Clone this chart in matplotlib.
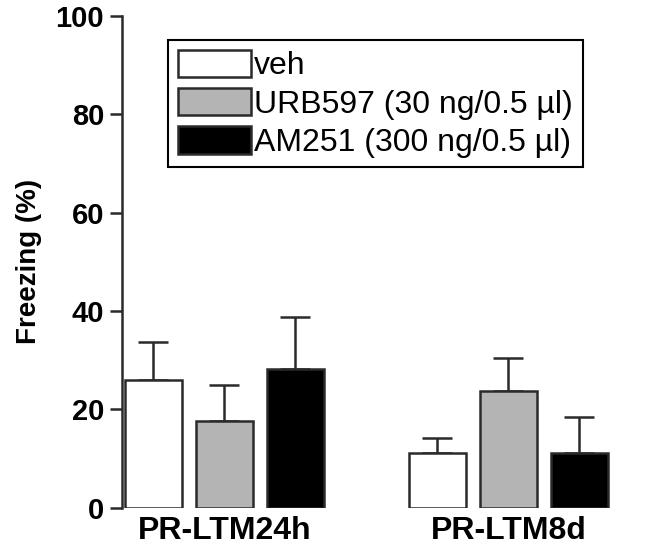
import numpy as np
import matplotlib.pyplot as plt

plt.rcParams['font.family'] = ['Liberation Sans', 'DejaVu Sans']

groups = ['PR-LTM24h', 'PR-LTM8d']
labels = ['veh', 'URB597 (30 ng/0.5 µl)', 'AM251 (300 ng/0.5 µl)']
veh = [26.0, 11.2]
urb = [17.7, 23.8]
am251 = [28.2, 11.1]
veh_err = [7.7, 3.1]
urb_err = [7.3, 6.6]
am251_err = [10.6, 7.3]

colors = ['white', '#b4b4b4', 'black']
edge = '#2a2a2a'

fig = plt.figure(figsize=(6.5, 5.52), dpi=100)
ax = fig.add_axes([0.188, 0.08, 0.758, 0.891])

centers = np.array([0, 4])
for i, (vals, errs) in enumerate([(veh, veh_err), (urb, urb_err), (am251, am251_err)]):
    x = centers + (i - 1)
    ax.bar(x, vals, width=0.8, color=colors[i], edgecolor=edge, linewidth=1.8,
           label=labels[i], zorder=2)
    ax.errorbar(x, vals, yerr=[np.zeros(2), errs], fmt='none', ecolor=edge,
                elinewidth=1.8, capsize=11, capthick=1.8, zorder=1)

ax.set_xlim(-1.44, 5.5)
ax.set_ylim(0, 100)
ax.set_yticks([0, 20, 40, 60, 80, 100])
ax.set_xticks(centers)
ax.set_xticklabels(groups, fontsize=23, fontweight='bold')
ax.set_ylabel('Freezing (%)', fontsize=20, fontweight='bold', labelpad=10)
for t in ax.get_yticklabels():
    t.set_fontsize(21)
    t.set_fontweight('bold')

for s in ['top', 'right', 'bottom']:
    ax.spines[s].set_visible(False)
ax.spines['left'].set_linewidth(1.8)
ax.spines['left'].set_color(edge)
ax.tick_params(axis='y', length=9, width=1.8, color=edge, pad=4)
ax.tick_params(axis='x', length=0, pad=6)

leg = ax.legend(loc='upper left', bbox_to_anchor=(0.093, 0.951), fontsize=23,
                handlelength=2.3, handleheight=0.95, handletextpad=0.1,
                labelspacing=0.2, borderpad=0.3, borderaxespad=0,
                fancybox=False, framealpha=1, edgecolor='black')
leg.get_frame().set_linewidth(1.5)

fig.savefig('out.png', dpi=100)
